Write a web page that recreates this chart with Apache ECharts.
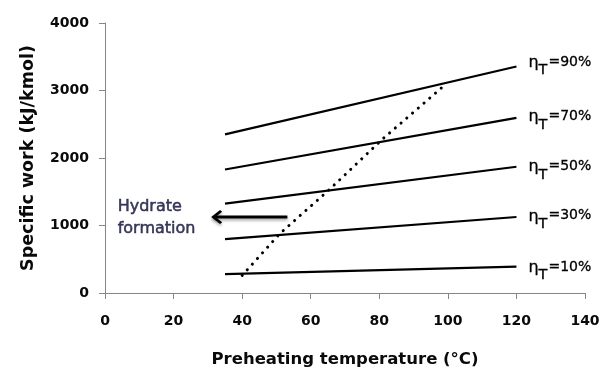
<!DOCTYPE html>
<html>
<head>
<meta charset="utf-8">
<script src="https://cdn.jsdelivr.net/npm/echarts@6/dist/echarts.min.js"></script>
<style>html,body{margin:0;padding:0;background:#fff}#c{width:612px;height:374px}</style>
</head>
<body>
<div id="c"></div>
<script>
// ---- data ----
const xRange = [35, 120];
const etaNames = ['90%', '70%', '50%', '30%', '10%'];
const eta90 = [2350, 3355];
const eta70 = [1830, 2595];
const eta50 = [1324, 1870];
const eta30 = [797, 1126];
const eta10 = [280, 390];
const hydrateX = [40, 51, 65.4, 80.5, 99.3];
const hydrateY = [260, 880, 1530, 2260, 3090];
const arrowX = [53.2, 31.7];
const arrowY = 1126;
const noteX = 3.7;
const noteY = 1107;
const xTicks = [0, 20, 40, 60, 80, 100, 120, 140];
const yTicks = [0, 1000, 2000, 3000, 4000];

const etaValues = [eta90, eta70, eta50, eta30, eta10];
const labelOffsets = [-3, 0, 1, 0, 2];

const chart = echarts.init(document.getElementById('c'), null, {renderer: 'canvas'});

const etaText = {fontFamily: 'DejaVu Sans', color: '#000', verticalAlign: 'top', lineHeight: 17,
  textBorderColor: '#000', textBorderWidth: 0.3};

const etaSeries = etaValues.map((vals, i) => ({
  type: 'line',
  name: 'eta' + etaNames[i],
  data: xRange.map((x, k) => [x, vals[k]]),
  symbol: 'none',
  lineStyle: {color: '#000', width: 2.2},
  z: 3,
  endLabel: {
    show: true,
    distance: 12,
    offset: [0, labelOffsets[i]],
    formatter: '{e|η}{s|T}{m|=' + etaNames[i] + '}',
    rich: {
      e: Object.assign({}, etaText, {fontSize: 16}),
      m: Object.assign({}, etaText, {fontSize: 14}),
      s: Object.assign({}, etaText, {fontSize: 14.5, padding: [8, 1, 0, 0]})
    }
  }
}));

const option = {
  animation: false,
  backgroundColor: '#fff',
  grid: {left: 105, right: 27, top: 23, bottom: 81, containLabel: false, outerBoundsMode: 'none'},
  xAxis: {
    type: 'value', min: xTicks[0], max: xTicks[xTicks.length - 1], interval: 20,
    name: 'Preheating temperature (°C)', nameLocation: 'middle', nameGap: 58,
    nameTextStyle: {fontFamily: 'DejaVu Sans', fontWeight: 'bold', fontSize: 16.5, color: '#0a0a0a'},
    axisLine: {show: true, lineStyle: {color: '#868686', width: 1}},
    axisTick: {show: true, inside: false, length: 6, lineStyle: {color: '#868686'}},
    splitLine: {show: false},
    axisLabel: {margin: 21, fontFamily: 'DejaVu Sans', fontWeight: 'bold', fontSize: 14, color: '#0a0a0a',
      formatter: v => String(v)}
  },
  yAxis: {
    type: 'value', min: yTicks[0], max: yTicks[yTicks.length - 1], interval: 1000,
    name: 'Specific work (kJ/kmol)', nameLocation: 'middle', nameGap: 68, nameRotate: 90,
    nameTextStyle: {fontFamily: 'DejaVu Sans', fontWeight: 'bold', fontSize: 17.5, color: '#0a0a0a'},
    axisLine: {show: true, lineStyle: {color: '#868686', width: 1}},
    axisTick: {show: true, inside: false, length: 6, lineStyle: {color: '#868686'}},
    splitLine: {show: false},
    axisLabel: {margin: 16, fontFamily: 'DejaVu Sans', fontWeight: 'bold', fontSize: 14, color: '#0a0a0a',
      formatter: v => String(v)}
  },
  series: etaSeries.concat([
    {
      type: 'line', name: 'hydrate',
      data: hydrateX.map((x, i) => [x, hydrateY[i]]),
      symbol: 'none', smooth: false,
      lineStyle: {color: '#000', width: 3, type: [0.1, 7.5], cap: 'round'},
      z: 4
    },
    {
      type: 'line', name: 'arrow',
      data: arrowX.map(x => [x, arrowY]),
      symbol: 'none',
      lineStyle: {color: '#000', width: 3, shadowColor: 'rgba(0,0,0,0.35)', shadowBlur: 3, shadowOffsetY: 2},
      z: 5,
      markPoint: {
        silent: true,
        symbol: 'path://M10,0 L12.4,2.4 L4.8,10 L12.4,17.6 L10,20 L0,10 Z',
        symbolSize: [11, 14],
        symbolOffset: [3, 0],
        itemStyle: {color: '#000', shadowColor: 'rgba(0,0,0,0.35)', shadowBlur: 3, shadowOffsetY: 2},
        label: {show: false},
        data: [{coord: [arrowX[1], arrowY]}]
      }
    },
    {
      type: 'scatter', name: 'note',
      data: [[noteX, noteY]],
      symbolSize: 0,
      label: {
        show: true, position: 'right', distance: 0,
        formatter: 'Hydrate\nformation',
        fontFamily: 'DejaVu Sans', fontSize: 16, lineHeight: 22, color: '#0c0c36', align: 'left',
        textBorderColor: '#0c0c36', textBorderWidth: 0.5
      },
      z: 6
    }
  ])
};
chart.setOption(option);
</script>
</body>
</html>
